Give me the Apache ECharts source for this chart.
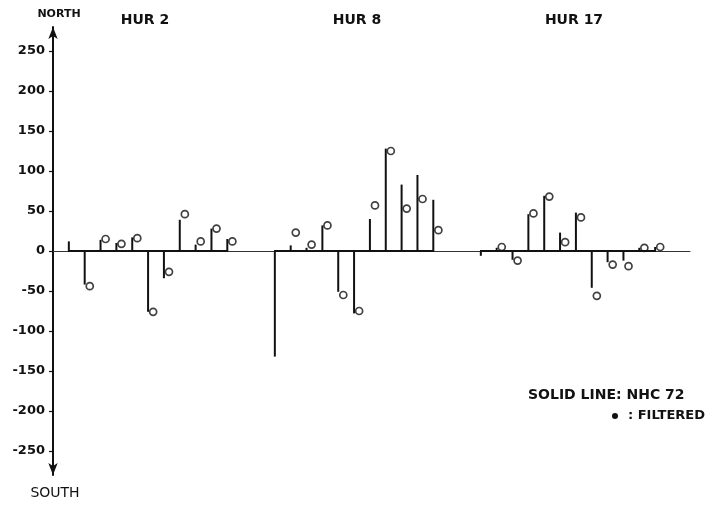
<!DOCTYPE html>
<html>
<head>
<meta charset="utf-8">
<script src="https://cdn.jsdelivr.net/npm/echarts@6/dist/echarts.min.js"></script>
<style>
  html, body { margin: 0; padding: 0; background: #fff; }
  #chart { width: 713px; height: 509px; }
</style>
</head>
<body>
<div id="chart"></div>
<script>
// North/south error component per forecast period for three hurricanes.
// Stems: NHC 72 values; open circles: filtered values.
const stormNames = ['HUR 2', 'HUR 8', 'HUR 17'];

const hur2Nhc      = [12, -42, 14, 10, 17, -76, -34, 39, 8, 28, 15];
const hur2Filtered = [null, -44, 15, 9, 16, -76, -26, 46, 12, 28, 12];

const hur8Nhc      = [-132, 7, 4, 32, -51, -78, 40, 128, 83, 95, 64];
const hur8Filtered = [null, 23, 8, 32, -55, -75, 57, 125, 53, 65, 26];

const hur17Nhc      = [-6, 4, -11, 46, 69, 23, 48, -46, -14, -12, 4, 5];
const hur17Filtered = [null, 5, -12, 47, 68, 11, 42, -56, -17, -19, 4, 5];

const yTicks = [-250, -200, -150, -100, -50, 0, 50, 100, 150, 200, 250];

// Layout: each storm occupies a run of consecutive periods along the x axis,
// with a gap of two periods between storms.
const groupStart = [0, 13, 26];
const circleShift = 0.32;   // filtered marker drawn just right of its stem

const nhcGroups = [hur2Nhc, hur8Nhc, hur17Nhc];
const filtGroups = [hur2Filtered, hur8Filtered, hur17Filtered];

const stemData = [];
const circleData = [];
const baselines = [];
nhcGroups.forEach((vals, g) => {
  vals.forEach((v, i) => stemData.push([groupStart[g] + i, v]));
  filtGroups[g].forEach((v, i) => {
    if (v !== null) circleData.push([groupStart[g] + i + circleShift, v]);
  });
  baselines.push([
    { coord: [groupStart[g] - 0.05, 0] },
    { coord: [groupStart[g] + vals.length - 1 + 0.05, 0] }
  ]);
});

const ink = '#111';
const labelFont = 'DejaVu Sans';

const chart = echarts.init(document.getElementById('chart'), null, { renderer: 'canvas' });

const titleCenters = [145, 357, 574];

chart.setOption({
  animation: false,
  backgroundColor: '#fff',
  grid: { left: 53, right: 23, top: 27, bottom: 34, containLabel: false },
  xAxis: {
    type: 'value',
    min: -1,
    max: 39.2,
    axisLine: { show: true, onZero: true, lineStyle: { color: '#333', width: 1 } },
    axisTick: { show: false },
    axisLabel: { show: false },
    splitLine: { show: false }
  },
  yAxis: {
    type: 'value',
    min: -280,
    max: 280,
    axisLine: {
      show: true,
      onZero: false,
      symbol: ['arrow', 'arrow'],
      symbolSize: [7, 12],
      lineStyle: { color: ink, width: 2 }
    },
    axisTick: {
      show: true,
      length: 4,
      customValues: yTicks,
      lineStyle: { color: ink, width: 1.2 }
    },
    axisLabel: {
      customValues: yTicks,
      margin: 8,
      color: ink,
      fontFamily: labelFont,
      fontWeight: 'bold',
      fontSize: 13
    },
    splitLine: { show: false }
  },
  series: [
    {
      name: 'NHC 72',
      type: 'bar',
      data: stemData,
      barWidth: 2,
      itemStyle: { color: ink },
      z: 2,
      markLine: {
        silent: true,
        symbol: ['none', 'none'],
        label: { show: false },
        lineStyle: { color: ink, width: 2, type: 'solid' },
        data: baselines
      }
    },
    {
      name: 'FILTERED',
      type: 'scatter',
      data: circleData,
      symbol: 'circle',
      symbolSize: 7,
      itemStyle: { color: '#fff', borderColor: ink, borderWidth: 1.7 },
      z: 3
    }
  ],
  graphic: [
    ...stormNames.map((name, g) => ({
      type: 'text',
      x: titleCenters[g],
      y: 20,
      style: {
        text: name,
        font: 'bold 14px "DejaVu Sans"',
        fill: ink,
        align: 'center',
        verticalAlign: 'middle'
      }
    })),
    {
      type: 'text', x: 59, y: 14,
      style: { text: 'NORTH', font: 'bold 11px "DejaVu Sans"', fill: ink, align: 'center', verticalAlign: 'middle' }
    },
    {
      type: 'text', x: 55, y: 493,
      style: { text: 'SOUTH', font: '14px "DejaVu Sans"', fill: ink, align: 'center', verticalAlign: 'middle' }
    },
    {
      type: 'text', x: 528, y: 395,
      style: { text: 'SOLID LINE: NHC 72', font: 'bold 14px "DejaVu Sans"', fill: ink, align: 'left', verticalAlign: 'middle' }
    },
    {
      type: 'circle', shape: { cx: 615, cy: 416, r: 3 },
      style: { fill: ink }
    },
    {
      type: 'text', x: 628, y: 416,
      style: { text: ': FILTERED', font: 'bold 13px "DejaVu Sans"', fill: ink, align: 'left', verticalAlign: 'middle' }
    }
  ]
});
</script>
</body>
</html>
